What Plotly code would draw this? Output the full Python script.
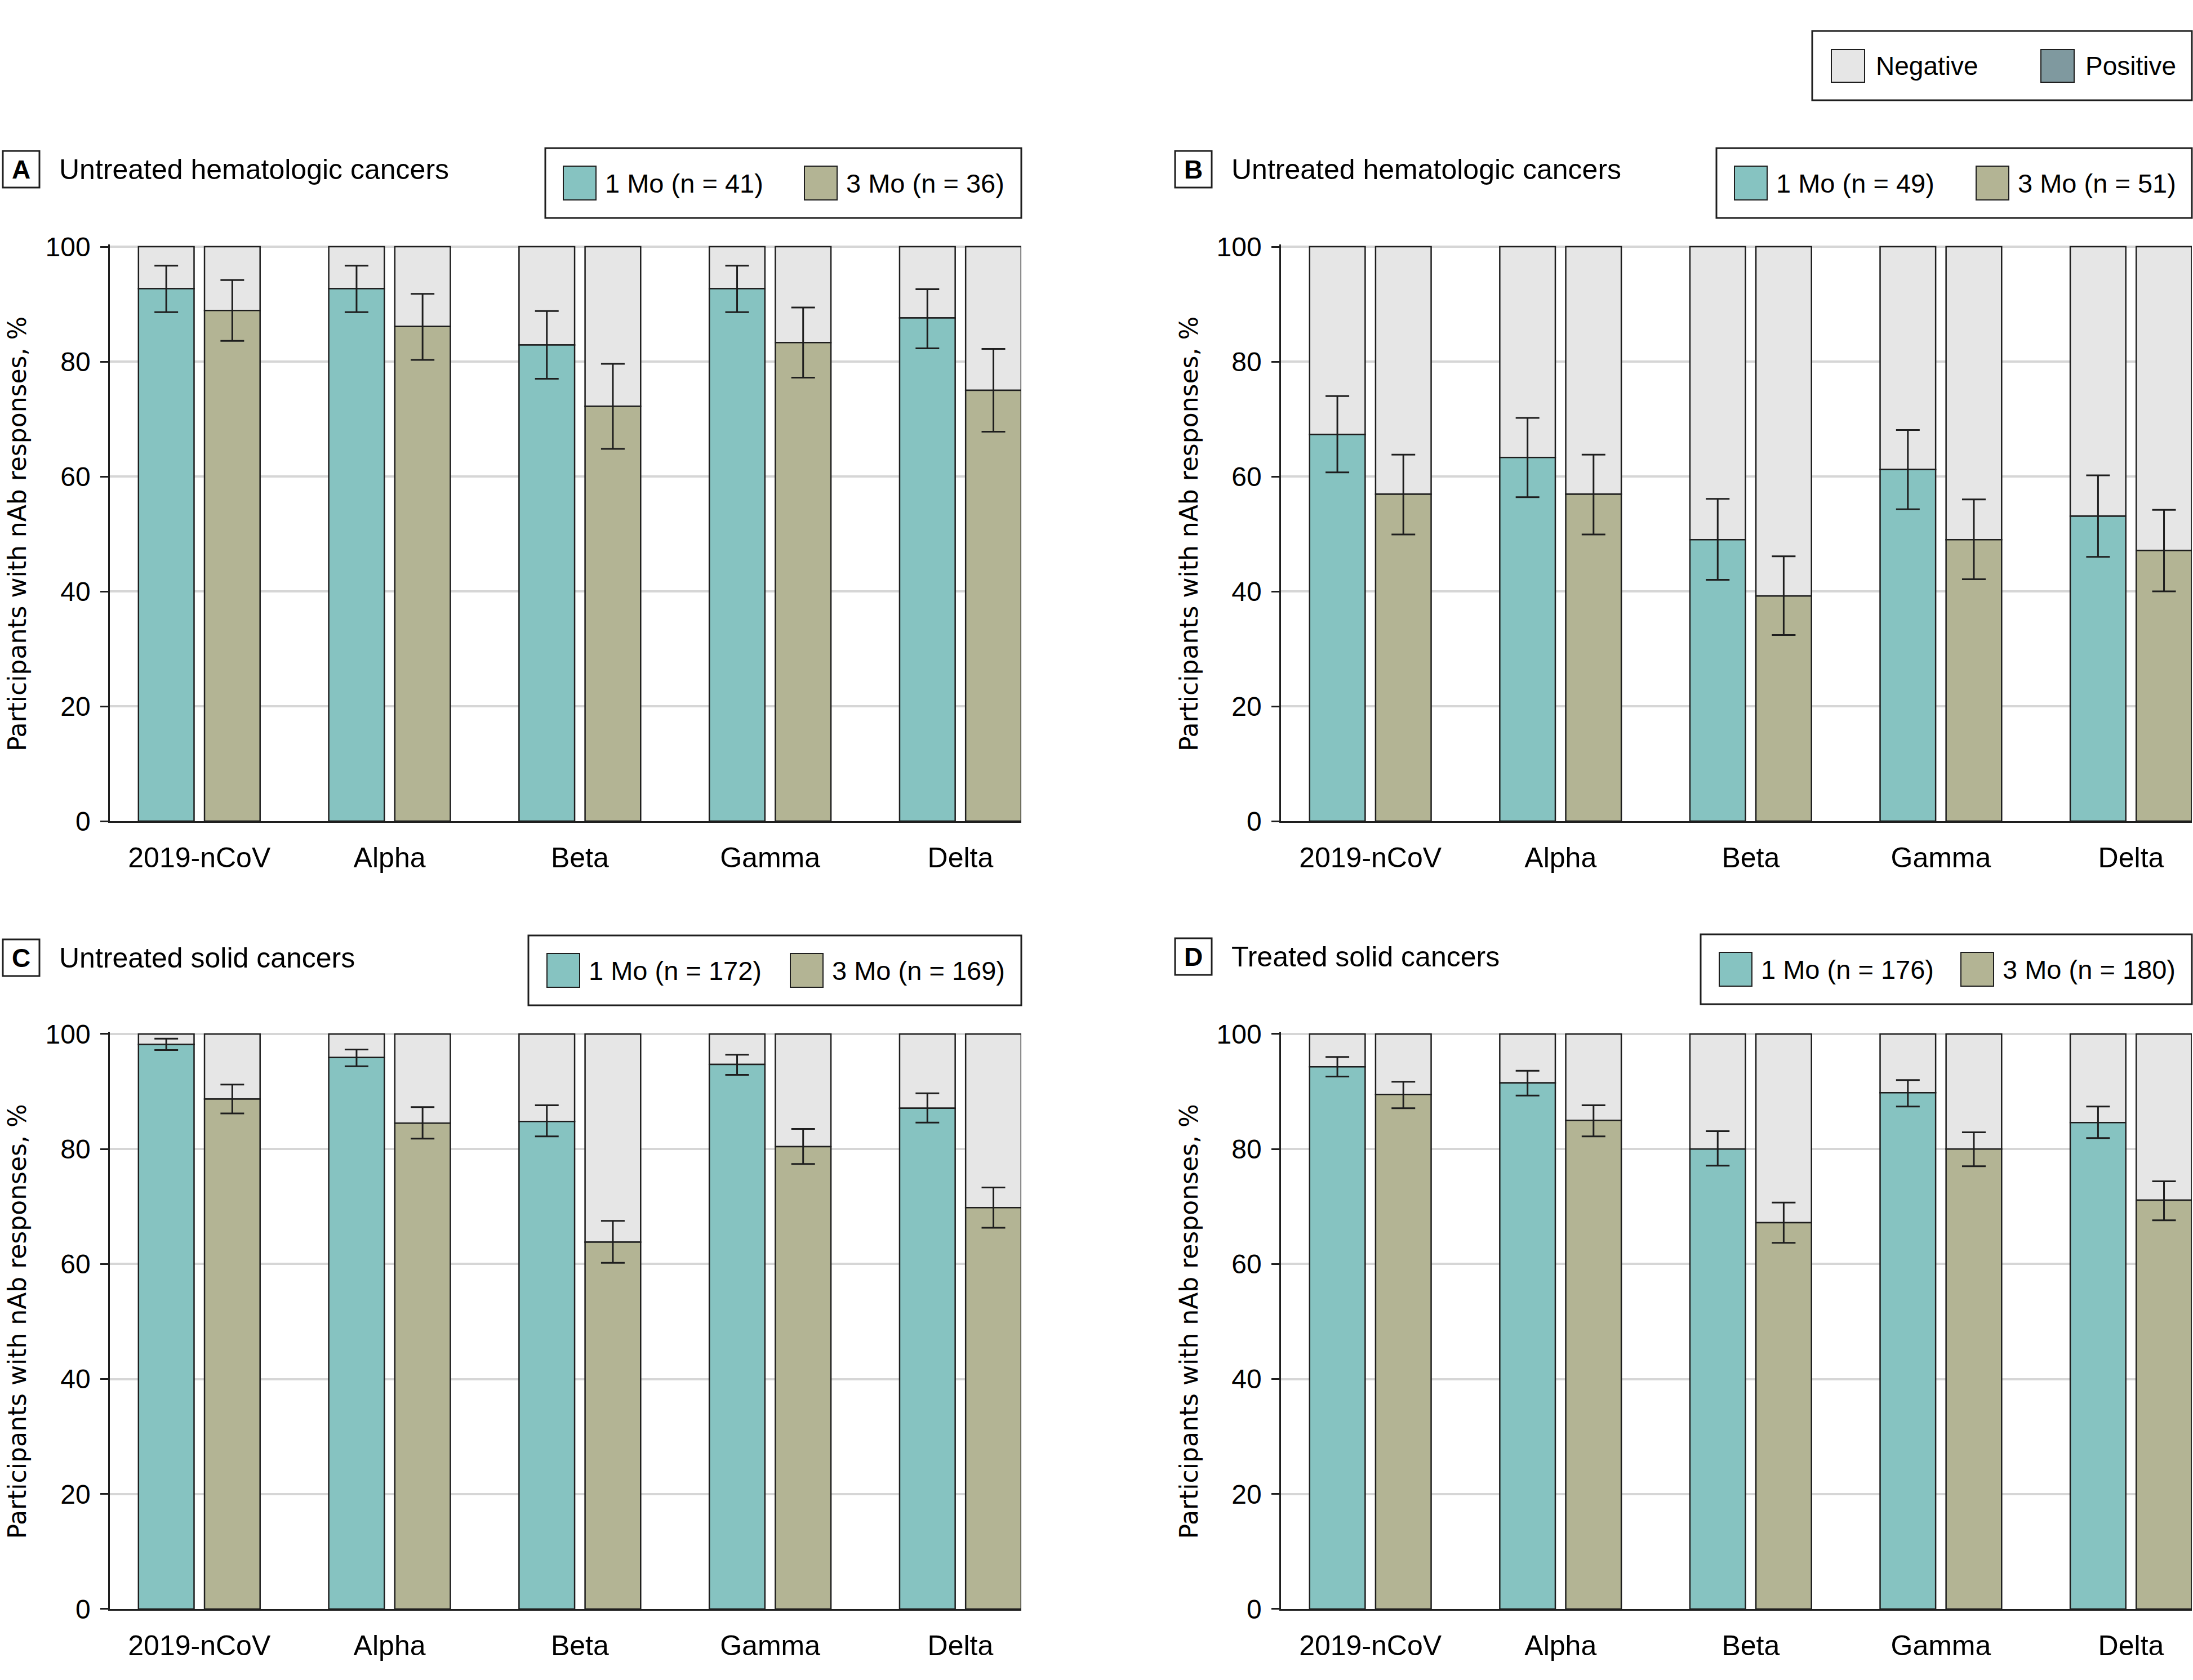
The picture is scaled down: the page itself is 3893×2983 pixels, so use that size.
import plotly.graph_objects as go
from plotly.subplots import make_subplots

W, H = 3893, 2983

variants = ['2019-nCoV', 'Alpha', 'Beta', 'Gamma', 'Delta']
y_ticks = [0, 20, 40, 60, 80, 100]

panel_letters = ['A', 'B', 'C', 'D']
panel_titles = ['Untreated hematologic cancers', 'Untreated hematologic cancers',
                'Untreated solid cancers', 'Treated solid cancers']
n_1mo = [41, 49, 172, 176]
n_3mo = [36, 51, 169, 180]

# % positive, with upper / lower CI bounds
a_1mo = [92.7, 92.7, 82.9, 92.7, 87.6]
a_1mo_hi = [96.7, 96.7, 88.8, 96.7, 92.6]
a_1mo_lo = [88.6, 88.6, 77.0, 88.6, 82.3]
a_3mo = [88.9, 86.1, 72.2, 83.3, 75.0]
a_3mo_hi = [94.2, 91.8, 79.6, 89.4, 82.2]
a_3mo_lo = [83.6, 80.3, 64.8, 77.2, 67.8]

b_1mo = [67.3, 63.3, 49.0, 61.2, 53.1]
b_1mo_hi = [74.0, 70.2, 56.1, 68.1, 60.2]
b_1mo_lo = [60.7, 56.4, 42.0, 54.3, 46.0]
b_3mo = [56.9, 56.9, 39.2, 49.0, 47.1]
b_3mo_hi = [63.8, 63.8, 46.1, 56.0, 54.2]
b_3mo_lo = [49.9, 49.9, 32.4, 42.1, 40.0]

c_1mo = [98.2, 95.9, 84.8, 94.7, 87.1]
c_1mo_hi = [99.2, 97.3, 87.6, 96.4, 89.7]
c_1mo_lo = [97.2, 94.4, 82.2, 92.9, 84.6]
c_3mo = [88.7, 84.5, 63.8, 80.4, 69.8]
c_3mo_hi = [91.2, 87.3, 67.5, 83.5, 73.3]
c_3mo_lo = [86.2, 81.8, 60.2, 77.4, 66.3]

d_1mo = [94.3, 91.5, 80.0, 89.8, 84.6]
d_1mo_hi = [96.0, 93.6, 83.1, 92.0, 87.4]
d_1mo_lo = [92.6, 89.3, 77.1, 87.4, 81.9]
d_3mo = [89.5, 85.0, 67.2, 80.0, 71.1]
d_3mo_hi = [91.7, 87.6, 70.7, 82.9, 74.4]
d_3mo_lo = [87.1, 82.2, 63.7, 77.0, 67.6]

panels = [
    (a_1mo, a_1mo_hi, a_1mo_lo, a_3mo, a_3mo_hi, a_3mo_lo),
    (b_1mo, b_1mo_hi, b_1mo_lo, b_3mo, b_3mo_hi, b_3mo_lo),
    (c_1mo, c_1mo_hi, c_1mo_lo, c_3mo, c_3mo_hi, c_3mo_lo),
    (d_1mo, d_1mo_hi, d_1mo_lo, d_3mo, d_3mo_hi, d_3mo_lo),
]

TEAL = '#86c3c1'
OLIVE = '#b3b494'
NEG = '#e6e6e6'
POS_KEY = '#7f999f'
EDGE = '#1e1e1e'
NARROW = 'Liberation Sans, Arial, sans-serif'
WIDE = 'DejaVu Sans, Verdana, sans-serif'


def fx(x):
    return x / W


def fy(y):
    return 1 - y / H


# pixel boxes of the plot areas: (left, right, top(=100), bottom(=0))
boxes = [(195, 1813, 438, 1458), (2274, 3891, 438, 1458),
         (195, 1813, 1836, 2857), (2274, 3891, 1836, 2857)]

fig = make_subplots(rows=2, cols=2)

for i, (v1, h1, l1, v3, h3, l3) in enumerate(panels):
    r, c = i // 2 + 1, i % 2 + 1
    for grp, vals, hi, lo, col in (('m1', v1, h1, l1, TEAL), ('m3', v3, h3, l3, OLIVE)):
        fig.add_trace(go.Bar(
            x=variants, y=[100 - v for v in vals], base=vals,
            offsetgroup=grp, marker=dict(color=NEG, line=dict(color=EDGE, width=2.5)),
            showlegend=False, hoverinfo='skip'), row=r, col=c)
        fig.add_trace(go.Bar(
            x=variants, y=vals, offsetgroup=grp,
            marker=dict(color=col, line=dict(color=EDGE, width=2.5)),
            error_y=dict(type='data', symmetric=False,
                         array=[h - v for h, v in zip(hi, vals)],
                         arrayminus=[v - l for v, l in zip(vals, lo)],
                         color=EDGE, thickness=3, width=21),
            showlegend=False), row=r, col=c)

shapes = []
annotations = []

for i, (x0, x1, yt, yb) in enumerate(boxes):
    r, c = i // 2 + 1, i % 2 + 1
    span = yb - yt
    top_extra = 0.4 * span / 100
    fig.update_xaxes(domain=[fx(x0), fx(x1)], range=[-0.47, 4.32], automargin=False,
                     showline=True, linecolor=EDGE, linewidth=2.5,
                     ticks='', ticklabelstandoff=19, showgrid=False,
                     tickfont=dict(family=NARROW, size=50, color='black'),
                     row=r, col=c)
    fig.update_yaxes(domain=[fy(yb), fy(yt - top_extra)], range=[0, 100.4], automargin=False,
                     tickvals=y_ticks, showline=True, linecolor=EDGE, linewidth=2.5,
                     ticks='outside', ticklen=14, tickwidth=2.5, tickcolor=EDGE,
                     ticklabelstandoff=8,
                     showgrid=True, gridcolor='#d6d6d6', gridwidth=4, zeroline=False,
                     tickfont=dict(family=NARROW, size=48, color='black'),
                     row=r, col=c)
    # y axis title
    annotations.append(dict(
        x=fx(30 if c == 1 else 2110), y=fy((yt + yb) / 2), xref='paper', yref='paper',
        text='Participants with nAb responses, %', textangle=-90, showarrow=False,
        font=dict(family=WIDE, size=44, color='black'), xanchor='center', yanchor='middle'))

# panel headers: letter box + title
label_boxes = [(5, 268), (2086, 268), (5, 1668), (2086, 1666)]
for i, (lx, ly) in enumerate(label_boxes):
    shapes.append(dict(type='rect', xref='paper', yref='paper',
                       x0=fx(lx), x1=fx(lx + 65), y0=fy(ly), y1=fy(ly + 65),
                       line=dict(color=EDGE, width=3), fillcolor='white'))
    annotations.append(dict(x=fx(lx + 32.5), y=fy(ly + 33), xref='paper', yref='paper',
                            text='<b>%s</b>' % panel_letters[i], showarrow=False,
                            font=dict(family=NARROW, size=46, color='black'),
                            xanchor='center', yanchor='middle'))
    annotations.append(dict(x=fx(lx + 98), y=fy(ly + 33), xref='paper', yref='paper',
                            text=panel_titles[i], showarrow=False,
                            font=dict(family=NARROW, size=50, color='black'),
                            xanchor='left', yanchor='middle'))

# per-panel month legends
legend_boxes = [(968, 1813, 263, 387, 1000, 1428),
                (3047, 3891, 263, 387, 3079, 3508),
                (938, 1813, 1661, 1785, 971, 1403),
                (3019, 3891, 1659, 1783, 3052, 3481)]
for i, (bx0, bx1, by0, by1, s1, s2) in enumerate(legend_boxes):
    shapes.append(dict(type='rect', xref='paper', yref='paper',
                       x0=fx(bx0), x1=fx(bx1), y0=fy(by0), y1=fy(by1),
                       line=dict(color=EDGE, width=3), fillcolor='white'))
    cy = (by0 + by1) / 2
    for sx, col, lab in ((s1, TEAL, '1 Mo (n = %d)' % n_1mo[i]),
                         (s2, OLIVE, '3 Mo (n = %d)' % n_3mo[i])):
        shapes.append(dict(type='rect', xref='paper', yref='paper',
                           x0=fx(sx), x1=fx(sx + 58), y0=fy(cy - 30), y1=fy(cy + 30),
                           line=dict(color=EDGE, width=2), fillcolor=col))
        annotations.append(dict(x=fx(sx + 72), y=fy(cy), xref='paper', yref='paper',
                                text=lab, showarrow=False,
                                font=dict(family=NARROW, size=47, color='black'),
                                xanchor='left', yanchor='middle'))

# Negative / Positive key
shapes.append(dict(type='rect', xref='paper', yref='paper',
                   x0=fx(3217), x1=fx(3891), y0=fy(55), y1=fy(178),
                   line=dict(color=EDGE, width=3), fillcolor='white'))
for sx, col, lab in ((3251, NEG, 'Negative'), (3623, POS_KEY, 'Positive')):
    shapes.append(dict(type='rect', xref='paper', yref='paper',
                       x0=fx(sx), x1=fx(sx + 59), y0=fy(88), y1=fy(146),
                       line=dict(color=EDGE, width=2), fillcolor=col))
    annotations.append(dict(x=fx(sx + 77), y=fy(117), xref='paper', yref='paper',
                            text=lab, showarrow=False,
                            font=dict(family=NARROW, size=46, color='black'),
                            xanchor='left', yanchor='middle'))

fig.update_layout(
    width=W, height=H,
    barmode='group', bargap=0.306, bargroupgap=0.158,
    paper_bgcolor='white', plot_bgcolor='white',
    margin=dict(l=0, r=0, t=0, b=0, autoexpand=False),
    showlegend=False,
    shapes=shapes, annotations=annotations,
    font=dict(family=NARROW, color='black'),
)

fig.write_html("out.html", config={'displayModeBar': False},
               post_script="document.body.style.margin='0';")
